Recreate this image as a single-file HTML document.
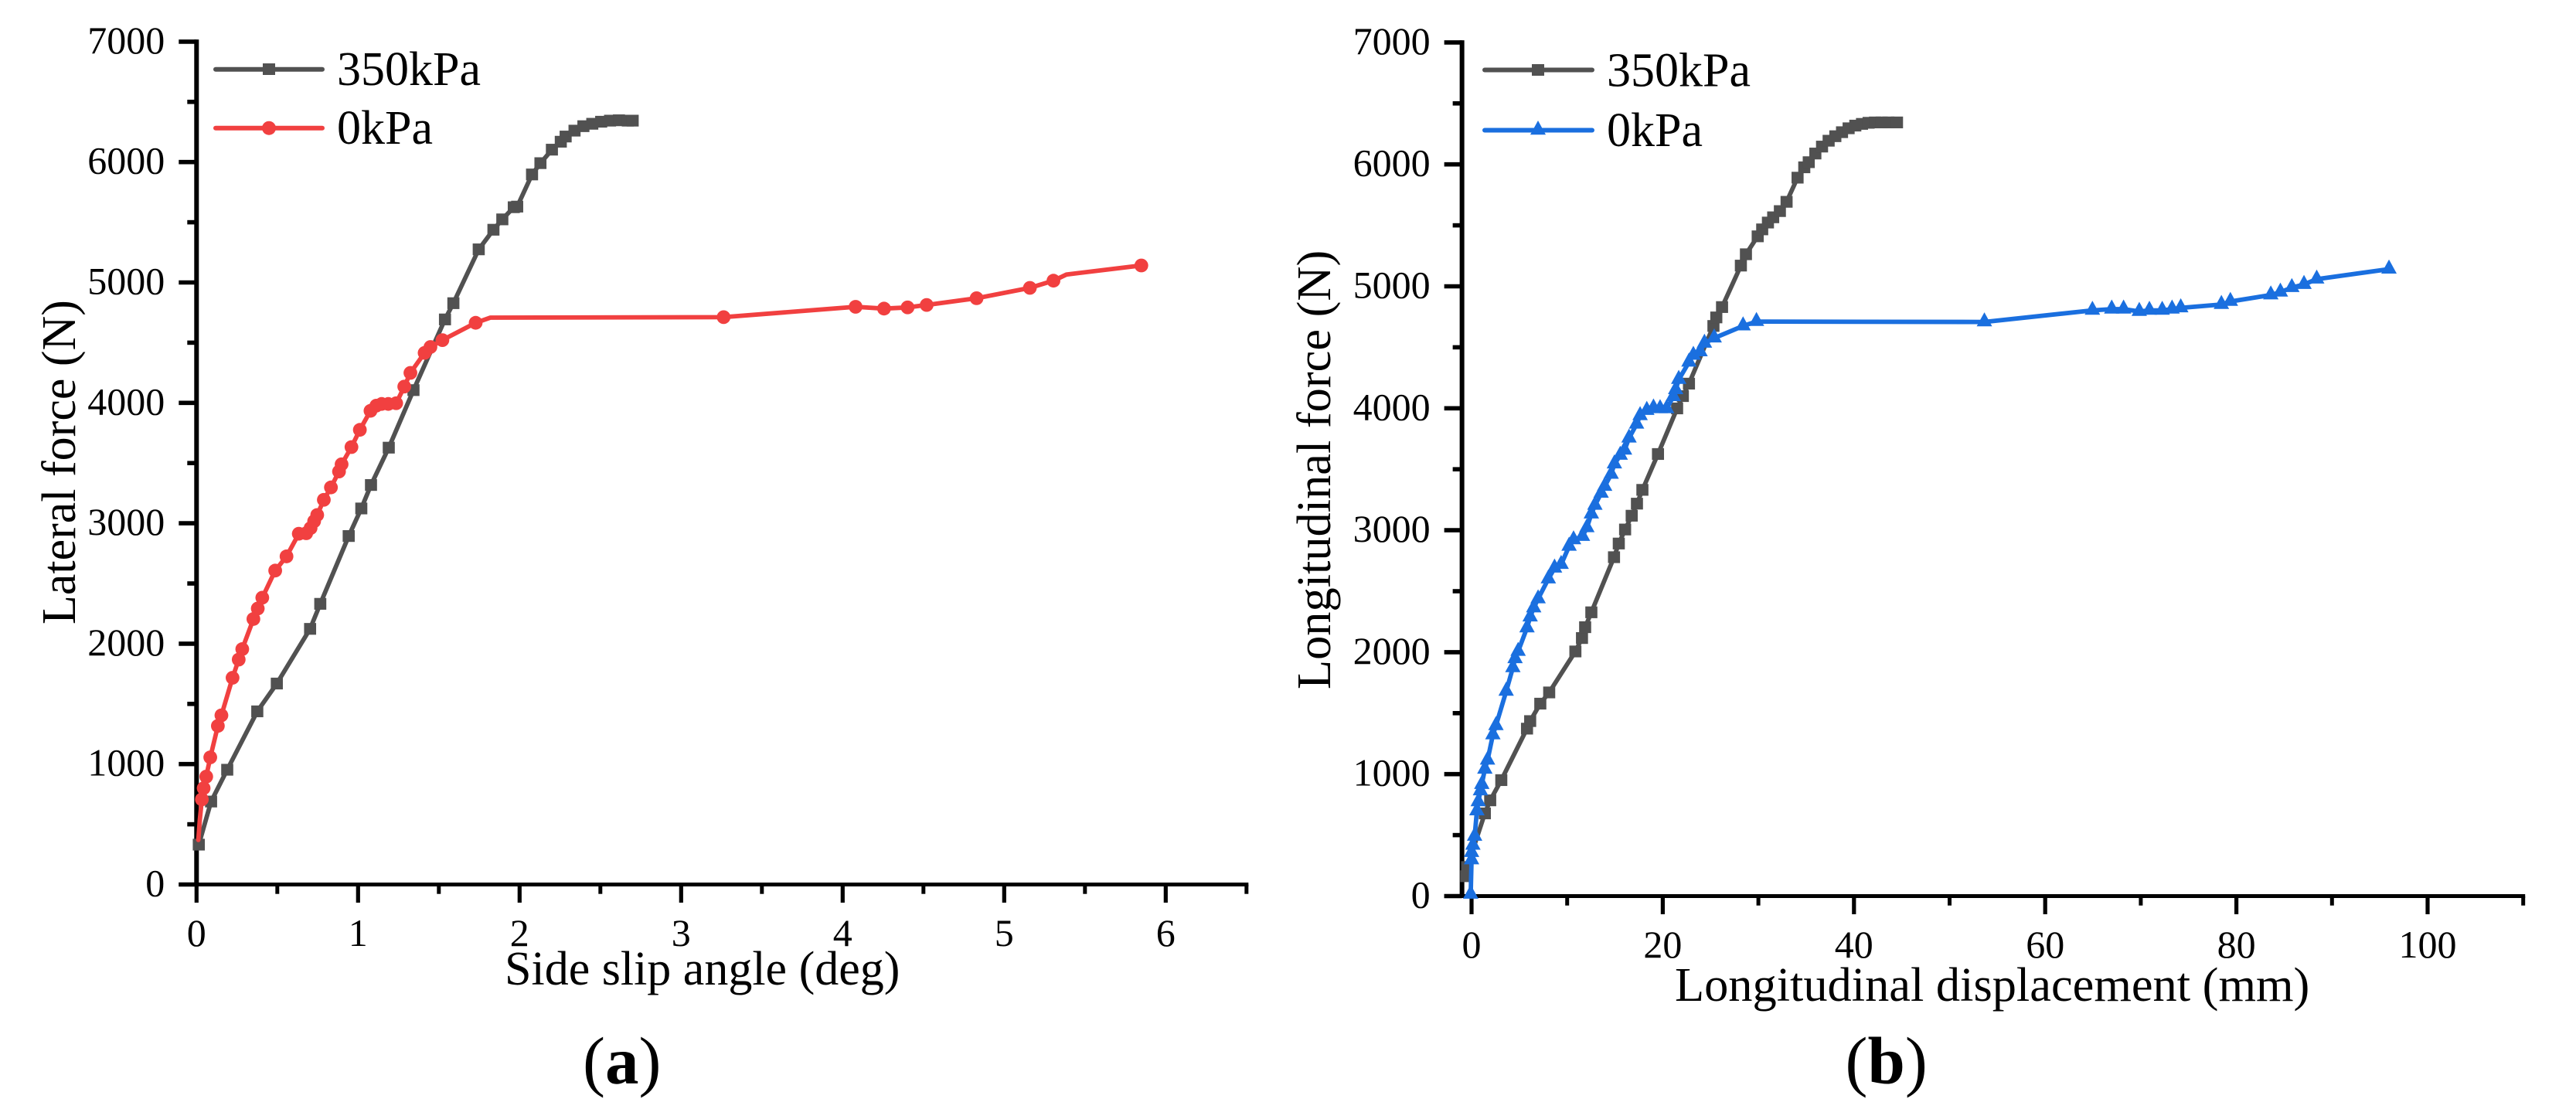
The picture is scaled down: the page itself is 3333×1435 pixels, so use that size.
<!DOCTYPE html>
<html lang="en">
<head>
<meta charset="utf-8">
<title>Force comparison at 350kPa and 0kPa</title>
<style>
html,body{margin:0;padding:0;background:#fff;width:3333px;height:1435px;overflow:hidden}
svg{display:block}
text{font-family:"Liberation Serif","DejaVu Serif",serif;fill:#000}
</style>
</head>
<body>
<svg id="figure" xmlns="http://www.w3.org/2000/svg" width="3333" height="1435" viewBox="0 0 3333 1435">
  <rect x="0" y="0" width="3333" height="1435" fill="#ffffff"/>
  <g id="panel-a">
    <g id="a-plot"></g>
    <text x="653" y="1274" font-size="62">Side slip angle (deg)</text>
    <text transform="translate(97,808) rotate(-90)" font-size="62">Lateral force (N)</text>
    <g>
      <line x1="279" y1="89.7" x2="417" y2="89.7" stroke="#515151" stroke-width="6" stroke-linecap="round"/>
      <rect x="340" y="82" width="16" height="15" fill="#515151"/>
      <text x="436" y="110" font-size="62">350kPa</text>
      <line x1="279" y1="165.7" x2="417" y2="165.7" stroke="#F14040" stroke-width="6" stroke-linecap="round"/>
      <circle cx="348" cy="165.7" r="9" fill="#F14040"/>
      <text x="436" y="186" font-size="62">0kPa</text>
    </g>
    <text x="754" y="1402" font-size="87">(<tspan font-weight="bold">a</tspan>)</text>
  </g>
  <g id="panel-b">
    <g id="b-plot"></g>
    <text x="2167" y="1295" font-size="62.4">Longitudinal displacement (mm)</text>
    <text transform="translate(1721,892) rotate(-90)" font-size="62.4">Longitudinal force (N)</text>
    <g>
      <line x1="1921" y1="90.5" x2="2060" y2="90.5" stroke="#515151" stroke-width="6" stroke-linecap="round"/>
      <rect x="1982" y="83" width="16" height="15" fill="#515151"/>
      <text x="2079" y="111.5" font-size="62">350kPa</text>
      <line x1="1921" y1="168.5" x2="2060" y2="168.5" stroke="#1A6FDF" stroke-width="6" stroke-linecap="round"/>
      <polygon points="1990,156 2000,174.2 1980,174.2" fill="#1A6FDF"/>
      <text x="2079" y="189" font-size="62">0kPa</text>
    </g>
    <text x="2387.5" y="1402" font-size="87">(<tspan font-weight="bold">b</tspan>)</text>
  </g>
</svg>
<script>
// ---------- Panel (a) data ----------
const aXMajorTicks = [0, 1, 2, 3, 4, 5, 6];
const aXMinorTicks = [0.5, 1.5, 2.5, 3.5, 4.5, 5.5, 6.5];
const yMajorTicks = [0, 1000, 2000, 3000, 4000, 5000, 6000, 7000];
const yMinorTicks = [500, 1500, 2500, 3500, 4500, 5500, 6500];

const aGrayAngle = [0.014,0.09,0.19,0.376,0.497,0.703,0.766,0.942,1.02,1.08,1.19,1.343,1.538,1.59,1.747,1.838,1.893,1.964,1.985,2.077,2.129,2.2,2.255,2.285,2.34,2.395,2.45,2.505,2.56,2.615,2.67,2.7];
const aGrayForce = [331,689,953,1438,1669,2123,2331,2894,3123,3318,3628,4106,4693,4828,5275,5438,5524,5625,5630,5897,5991,6103,6169,6212,6261,6298,6318,6335,6344,6347,6344,6344];

const aRedAngle = [0.011,0.02,0.033,0.044,0.06,0.085,0.132,0.154,0.223,0.261,0.283,0.352,0.379,0.407,0.487,0.557,0.633,0.679,0.706,0.728,0.747,0.788,0.832,0.882,0.898,0.959,1.011,1.077,1.113,1.146,1.187,1.236,1.286,1.324,1.412,1.448,1.522,1.728,1.819,3.263,4.08,4.256,4.402,4.52,4.829,5.159,5.305,5.385,5.849];
const aRedForce = [370,535,707,800,896,1056,1317,1405,1717,1868,1955,2205,2292,2382,2607,2725,2913,2917,2960,3017,3069,3195,3298,3430,3490,3633,3776,3934,3977,3991,3991,3997,4135,4249,4415,4464,4521,4665,4708,4712,4798,4783,4793,4813,4869,4955,5015,5066,5141];
const aRedUnmarked = [0, 1, 38, 47];

// ---------- Panel (b) data ----------
const bXMajorTicks = [0, 20, 40, 60, 80, 100];
const bXMinorTicks = [10, 30, 50, 70, 90, 110];

const bGrayDisp = [-0.56,-0.46,1.39,1.95,3.11,5.8,6.13,7.19,8.12,10.86,11.55,11.88,12.53,14.9,15.4,16.06,16.75,17.3,17.87,19.5,21.5,22.1,22.74,25.3,25.6,26.2,28.17,28.7,29.93,30.4,31,31.55,32.25,32.95,34.1,34.8,35.27,35.96,36.66,37.35,38.05,38.75,39.44,40.14,40.84,41.53,42.2,42.9,43.6,44.5];
const bGrayForce = [163,238,678,785,951,1373,1435,1578,1670,2006,2116,2205,2327,2779,2891,3006,3119,3218,3331,3625,3999,4100,4202,4675,4745,4830,5170,5263,5410,5467,5523,5566,5617,5693,5891,5976,6018,6089,6146,6194,6231,6264,6296,6318,6332,6341,6344,6344,6344,6344];

const bBlueDisp = [-0.09,0,0,0.14,0.32,0.56,0.7,0.93,1.07,1.39,1.67,2.23,2.55,3.62,4.32,4.55,4.87,5.8,6.13,6.5,6.96,8.03,8.68,9.37,10.2,10.67,11.6,12.06,12.53,12.9,13.55,13.92,14.6,14.94,15.55,16,16.47,17.26,17.63,18.33,19.03,19.72,20.4,21.1,21.35,21.67,22.74,23.2,23.9,24.36,25.38,28.4,29.8,53.64,64.94,66.96,68.2,69.84,70.9,72.24,73.27,74.18,78.43,79.37,83.6,84.6,85.8,87.07,88.4,95.96];
const bBlueForce = [15,297,357,416,490,698,773,862,915,1040,1114,1322,1397,1679,1872,1946,2006,2199,2288,2363,2437,2600,2689,2719,2868,2921,2949,3020,3133,3204,3303,3359,3458,3543,3614,3656,3755,3869,3939,3982,4002,3996,3996,4095,4152,4236,4378,4434,4463,4533,4576,4675,4711,4708,4803,4813,4813,4794,4803,4803,4813,4823,4851,4876,4929,4952,4989,5015,5059,5141];

// ---------- Axis functions ----------
const aX = v => 254.3 + 209 * v;
const aY = v => 1144.5 - 0.1558 * v;
const bX = v => 1904 + 12.37 * v;
const bY = v => 1159.5 - 0.1578 * v;

const NS = 'http://www.w3.org/2000/svg';
function mk(parent, tag, attrs, text) {
  const el = document.createElementNS(NS, tag);
  for (const k in attrs) el.setAttribute(k, attrs[k]);
  if (text !== undefined) el.textContent = text;
  parent.appendChild(el);
  return el;
}

function drawAxes(root, prefix, fx, fy, xMin, xMax, xMajor, xMinor, yMajor, yMinor, xLabelY) {
  const xLeft = fx(xMin), xRight = fx(xMax), yBase = fy(0), yTop = fy(7000);
  const axisX = mk(root, 'line', {x1: xLeft - 23, y1: yBase, x2: xRight + 2.5, y2: yBase, stroke: '#000', 'stroke-width': 5});
  
  
  const axisY = mk(root, 'line', {x1: xLeft, y1: yBase + 2.5, x2: xLeft, y2: yTop - 2.8, stroke: '#000', 'stroke-width': 6});
  
  

  xMajor.forEach(v => {
    const t = mk(root, 'line', {x1: fx(v), y1: yBase, x2: fx(v), y2: yBase + 23.5, stroke: '#000', 'stroke-width': 5.2});
    
    
    const l = mk(root, 'text', {x: fx(v), y: xLabelY, 'font-size': 50, 'text-anchor': 'middle'}, String(v));
    
    
  });
  xMinor.forEach(v => {
    const t = mk(root, 'line', {x1: fx(v), y1: yBase, x2: fx(v), y2: yBase + 12.2, stroke: '#000', 'stroke-width': 5});
    
    
  });
  yMajor.forEach(v => {
    const t = mk(root, 'line', {x1: xLeft - 23, y1: fy(v), x2: xLeft, y2: fy(v), stroke: '#000', 'stroke-width': 5.6});
    
    
    const l = mk(root, 'text', {x: xLeft - 41, y: fy(v) + 15, 'font-size': 50, 'text-anchor': 'end'}, String(v));
    
    
  });
  yMinor.forEach(v => {
    const t = mk(root, 'line', {x1: xLeft - 12, y1: fy(v), x2: xLeft, y2: fy(v), stroke: '#000', 'stroke-width': 5.6});
    
    
  });
}

function drawSeries(root, name, xs, ys, fx, fy, color, shape, unmarked) {
  const g = mk(root, 'g', {});
  
  
  const pts = xs.map((x, i) => fx(x).toFixed(1) + ',' + fy(ys[i]).toFixed(1)).join(' ');
  const line = mk(g, 'polyline', {points: pts, fill: 'none', stroke: color, 'stroke-width': 5.8, 'stroke-linejoin': 'round', 'stroke-linecap': 'round'});
  
  
  xs.forEach((x, i) => {
    if (unmarked.indexOf(i) !== -1) return;
    const px = fx(x), py = fy(ys[i]);
    let m;
    if (shape === 'square') {
      m = mk(g, 'rect', {x: px - 7.8, y: py - 7.6, width: 15.6, height: 15.2, fill: color});
    } else if (shape === 'circle') {
      m = mk(g, 'circle', {cx: px, cy: py, r: 8.9, fill: color});
    } else {
      m = mk(g, 'polygon', {points: (px) + ',' + (py - 12.5) + ' ' + (px + 10) + ',' + (py + 5.7) + ' ' + (px - 10) + ',' + (py + 5.7), fill: color});
    }
    
    
  });
}

const rootA = document.getElementById('a-plot');
const rootB = document.getElementById('b-plot');
drawAxes(rootA, 'panel-a', aX, aY, 0, 6.5, aXMajorTicks, aXMinorTicks, yMajorTicks, yMinorTicks, 1224);
drawAxes(rootB, 'panel-b', bX, bY, -1, 110, bXMajorTicks, bXMinorTicks, yMajorTicks, yMinorTicks, 1239);
drawSeries(rootA, 'panel-a-350kpa', aGrayAngle, aGrayForce, aX, aY, '#515151', 'square', []);
drawSeries(rootA, 'panel-a-0kpa', aRedAngle, aRedForce, aX, aY, '#F14040', 'circle', aRedUnmarked);
drawSeries(rootB, 'panel-b-350kpa', bGrayDisp, bGrayForce, bX, bY, '#515151', 'square', []);
drawSeries(rootB, 'panel-b-0kpa', bBlueDisp, bBlueForce, bX, bY, '#1A6FDF', 'triangle', []);
</script>
</body>
</html>
